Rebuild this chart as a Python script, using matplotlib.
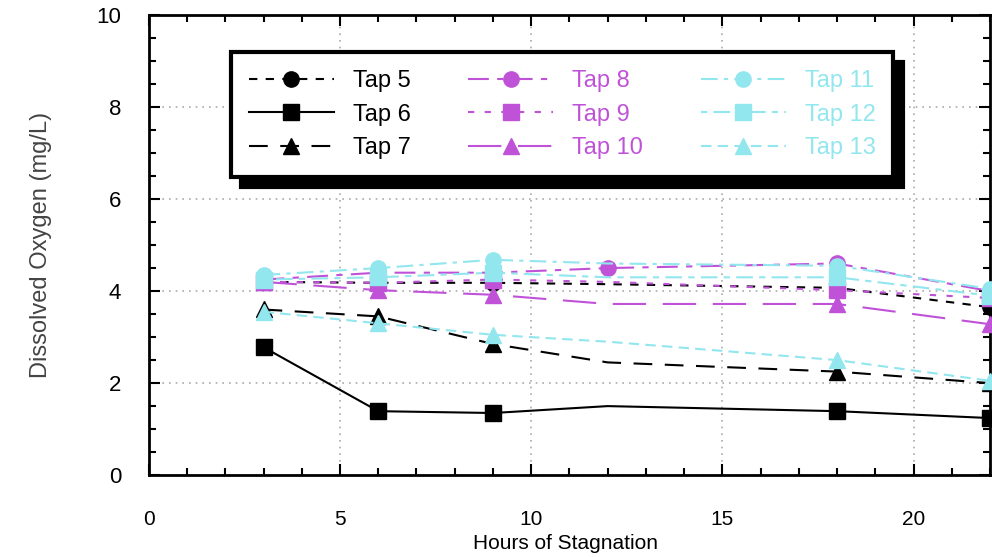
import matplotlib.pyplot as plt
from matplotlib.ticker import MultipleLocator

hours = [3, 6, 9, 12, 18, 22]

tap5 = [4.20, 4.18, 4.18, 4.15, 4.07, 3.65]
tap6 = [2.78, 1.39, 1.35, 1.50, 1.39, 1.24]
tap7 = [3.60, 3.45, 2.85, 2.45, 2.25, 2.00]
tap8 = [4.25, 4.40, 4.40, 4.50, 4.60, 4.00]
tap9 = [4.20, 4.18, 4.25, 4.20, 4.02, 3.85]
tap10 = [4.20, 4.02, 3.92, 3.72, 3.72, 3.28]
tap11 = [4.35, 4.50, 4.68, 4.60, 4.55, 4.05]
tap12 = [4.25, 4.30, 4.40, 4.30, 4.30, 3.90]
tap13 = [3.55, 3.30, 3.05, 2.90, 2.50, 2.05]

black = "black"
mag = "#c052d8"
cyan = "#92e6ee"

plt.rcParams['font.family'] = ['Liberation Sans', 'DejaVu Sans']

fig = plt.figure(figsize=(9.92, 5.57), dpi=100)
ax = fig.add_axes([0.150, 0.147, 0.848, 0.826])

skip12 = [0, 1, 2, 4, 5]
series = [
    ("Tap 5", tap5, black, "o", (0, (4, 4)), skip12),
    ("Tap 6", tap6, black, "s", "-", skip12),
    ("Tap 7", tap7, black, "^", (0, (9, 6)), skip12),
    ("Tap 8", tap8, mag, "o", (0, (10, 4, 3, 4)), None),
    ("Tap 9", tap9, mag, "s", (0, (3, 5)), skip12),
    ("Tap 10", tap10, mag, "^", (0, (16, 8)), skip12),
    ("Tap 11", tap11, cyan, "o", (0, (8, 3, 2, 3)), skip12),
    ("Tap 12", tap12, cyan, "s", (0, (3, 3, 8, 3)), skip12),
    ("Tap 13", tap13, cyan, "^", (0, (5, 3)), skip12),
]

for name, vals, col, mk, ls, me in series:
    ax.plot(hours, vals, color=col, linestyle=ls, linewidth=1.5, marker=mk,
            markersize=11, markevery=me, label=name, clip_on=False, zorder=3)

ax.set_xlim(0, 22)
ax.set_ylim(0, 10)
ax.xaxis.set_major_locator(MultipleLocator(5))
ax.xaxis.set_minor_locator(MultipleLocator(1))
ax.yaxis.set_major_locator(MultipleLocator(2))
ax.yaxis.set_minor_locator(MultipleLocator(0.5))
ax.tick_params(which="both", direction="in", top=True, right=True, width=1.5)
ax.tick_params(which="major", length=8, labelsize=16)
ax.tick_params(which="minor", length=5)
ax.tick_params(axis="x", pad=25, labelsize=15)
ax.tick_params(axis="y", pad=20)
for s in ax.spines.values():
    s.set_linewidth(2)
ax.grid(True, which="major", color="#aaaaaa", linestyle=(0, (1, 3)), linewidth=1.2)

fig.text(0.570, 0.024, "Hours of Stagnation", fontsize=15, ha="center", va="center")
ax.set_ylabel("Dissolved Oxygen (mg/L)", fontsize=17, color="#444444", labelpad=32)

leg = ax.legend(ncol=3, loc="upper left", bbox_to_anchor=(0.084, 0.945, 0.815, 0.0),
                mode="expand", fontsize=17, frameon=True, fancybox=False,
                shadow={"color": "black", "alpha": 1, "ox": 7, "oy": -7},
                edgecolor="black", handlelength=3.6, labelspacing=0.5,
                borderpad=0.75, columnspacing=2.0, handletextpad=0.8, framealpha=1)
leg.get_frame().set_linewidth(3)
for txt, (_, _, col, _, _, _) in zip(leg.get_texts(), series):
    txt.set_color(col)

fig.savefig("out.png", dpi=100)
